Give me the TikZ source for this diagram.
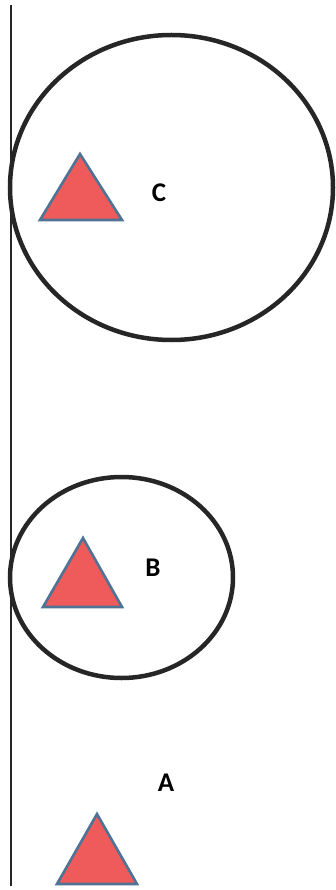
\documentclass[tikz,border=0pt]{standalone}
\usepackage{fontspec}
\setmainfont{Carlito}
\definecolor{trifill}{HTML}{EF5A5A}
\definecolor{triline}{HTML}{4F7394}
\tikzset{
  tri/.style={fill=trifill, draw=triline, line width=2.6pt, line join=miter},
  ring/.style={draw=black!85, line width=4.5pt},
  lbl/.style={font=\fontsize{27}{30}\selectfont\bfseries, inner sep=0pt, text=black}
}
\begin{document}
\begin{tikzpicture}[x=1pt,y=-1pt]
\useasboundingbox (0,0) rectangle (336,890);
\fill[white] (0,0) rectangle (336,890);
% vertical line
\draw[line width=1.8pt, black!85] (11,5) -- (11,886);
% circle C
\draw[ring] (171.5,187.5) ellipse [x radius=161.5, y radius=152.5];
\draw[tri] (80,154) -- (122,220) -- (40,220) -- cycle;
\node[lbl] (C) at (159,193) {C};
% circle B
\draw[ring] (121.5,577.5) ellipse [x radius=111.5, y radius=100.5];
\draw[tri] (83,538) -- (122,607) -- (43,607) -- cycle;
\node[lbl] (B) at (153,568) {B};
% A
\draw[tri] (97,814) -- (137,884) -- (57,884) -- cycle;
\node[lbl] (A) at (166,783) {A};
\end{tikzpicture}
\end{document}
